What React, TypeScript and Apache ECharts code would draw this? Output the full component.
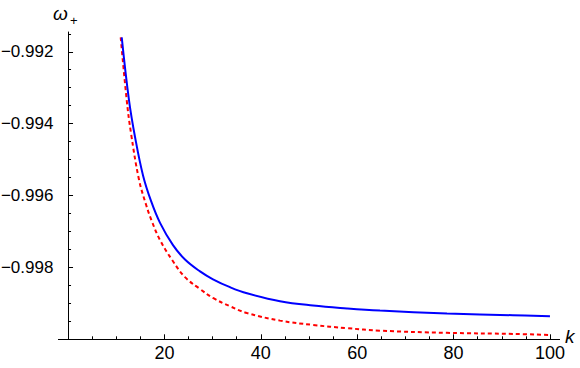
import React, { useEffect, useRef } from "react";
import * as echarts from "echarts";

// k values and ω+ values
const blueK = [11.14, 12.66, 13.9, 15.56, 17.22, 19.09, 21.78, 24.27, 27.39, 30.08, 33.61, 37.14, 43.98, 50.83, 57.88, 64.73, 78.63, 92.32, 100];
const blueW = [-0.9916, -0.99336, -0.99437, -0.99544, -0.99615, -0.99676, -0.99738, -0.99778, -0.99811, -0.99833, -0.99855, -0.99872, -0.99894, -0.99906, -0.99914, -0.9992, -0.99928, -0.99933, -0.99936];

const redK = [10.93, 12.18, 13.07, 14.73, 16.18, 17.43, 19.09, 21.58, 24.27, 27.39, 30.08, 33.61, 37.14, 43.98, 50.83, 57.88, 64.73, 78.63, 92.32, 100];
const redW = [-0.9916, -0.99335, -0.99427, -0.99556, -0.99625, -0.99673, -0.99724, -0.99779, -0.99827, -0.9986, -0.99885, -0.99908, -0.99927, -0.99948, -0.9996, -0.99969, -0.99976, -0.99982, -0.99985, -0.99988];

const xMajorTicks = [20, 40, 60, 80, 100];
const xMinorTicks = [5, 10, 15, 25, 30, 35, 45, 50, 55, 65, 70, 75, 85, 90, 95];
const yMajorTicks = [-0.998, -0.996, -0.994, -0.992];
const yMinorTicks = [-0.9995, -0.999, -0.9985, -0.9975, -0.997, -0.9965, -0.9955, -0.995, -0.9945, -0.9935, -0.993, -0.9925, -0.9915];

const X_MIN = -2;
const X_MAX = 102;
const Y_MIN = -1.0;
const Y_MAX = -0.99145;

const FONT = "Liberation Sans";

export default function App() {
  const ref = useRef<HTMLDivElement>(null);

  useEffect(() => {
    if (!ref.current) return;
    const chart = echarts.init(ref.current, null, { renderer: "svg" });

    const blueData = blueK.map((k, i) => [k, blueW[i]]);
    const redData = redK.map((k, i) => [k, redW[i]]);

    chart.setOption({
      animation: false,
      backgroundColor: "#fff",
      textStyle: { fontFamily: FONT },
      grid: {
        left: 58.4,
        right: 20.4,
        top: 32,
        bottom: 28.7,
        containLabel: false,
        outerBoundsMode: "none",
      },
      xAxis: [
        {
          type: "value",
          min: X_MIN,
          max: X_MAX,
          position: "bottom",
          axisLine: { show: true, onZero: false, lineStyle: { color: "#000", width: 1 } },
          axisTick: { show: true, inside: true, length: 5, customValues: xMajorTicks, lineStyle: { color: "#000" } },
          axisLabel: {
            show: true,
            customValues: xMajorTicks,
            margin: 5,
            color: "#000",
            fontFamily: FONT,
            fontSize: 18,
          },
          splitLine: { show: false },
        },
        {
          type: "value",
          min: X_MIN,
          max: X_MAX,
          position: "bottom",
          offset: 0,
          axisLine: { show: false, onZero: false },
          axisTick: { show: true, inside: true, length: 3, customValues: xMinorTicks, lineStyle: { color: "#000" } },
          axisLabel: { show: false },
          splitLine: { show: false },
        },
      ],
      yAxis: [
        {
          type: "value",
          min: Y_MIN,
          max: Y_MAX,
          position: "left",
          axisLine: { show: true, onZero: true, lineStyle: { color: "#000", width: 1 } },
          axisTick: { show: true, inside: true, length: 5, customValues: yMajorTicks, lineStyle: { color: "#000" } },
          axisLabel: {
            show: true,
            customValues: yMajorTicks,
            margin: 5,
            color: "#000",
            fontFamily: FONT,
            fontSize: 17,
            formatter: (v: number) => "\u2212" + Math.abs(v).toFixed(3),
          },
          splitLine: { show: false },
        },
        {
          type: "value",
          min: Y_MIN,
          max: Y_MAX,
          position: "left",
          offset: 0,
          axisLine: { show: false, onZero: true },
          axisTick: { show: true, inside: true, length: 3, customValues: yMinorTicks, lineStyle: { color: "#000" } },
          axisLabel: { show: false },
          splitLine: { show: false },
        },
      ],
      series: [
        {
          type: "line",
          data: redData,
          xAxisIndex: 0,
          yAxisIndex: 0,
          smooth: 0.4,
          showSymbol: false,
          lineStyle: { color: "#ff0000", width: 2, type: [4, 3] },
          z: 2,
        },
        {
          type: "line",
          data: blueData,
          xAxisIndex: 0,
          yAxisIndex: 0,
          smooth: 0.4,
          showSymbol: false,
          lineStyle: { color: "#0000ff", width: 2 },
          z: 3,
        },
      ],
      graphic: [
        {
          type: "text",
          x: 565,
          y: 336,
          style: {
            text: "k",
            fontFamily: FONT,
            fontStyle: "italic",
            fontSize: 19,
            fill: "#000",
            verticalAlign: "middle",
            align: "left",
          },
        },
        {
          type: "text",
          x: 53,
          y: 13,
          style: {
            text: "ω",
            fontFamily: FONT,
            fontStyle: "italic",
            fontSize: 19,
            fill: "#000",
            verticalAlign: "middle",
            align: "left",
          },
        },
        {
          type: "text",
          x: 70,
          y: 20,
          style: {
            text: "+",
            fontFamily: FONT,
            fontSize: 13,
            fill: "#000",
            verticalAlign: "middle",
            align: "left",
          },
        },
      ],
    });

    return () => chart.dispose();
  }, []);

  return (
    <div
      ref={ref}
      style={{ position: "fixed", left: 0, top: 0, width: 580, height: 368 }}
    />
  );
}
